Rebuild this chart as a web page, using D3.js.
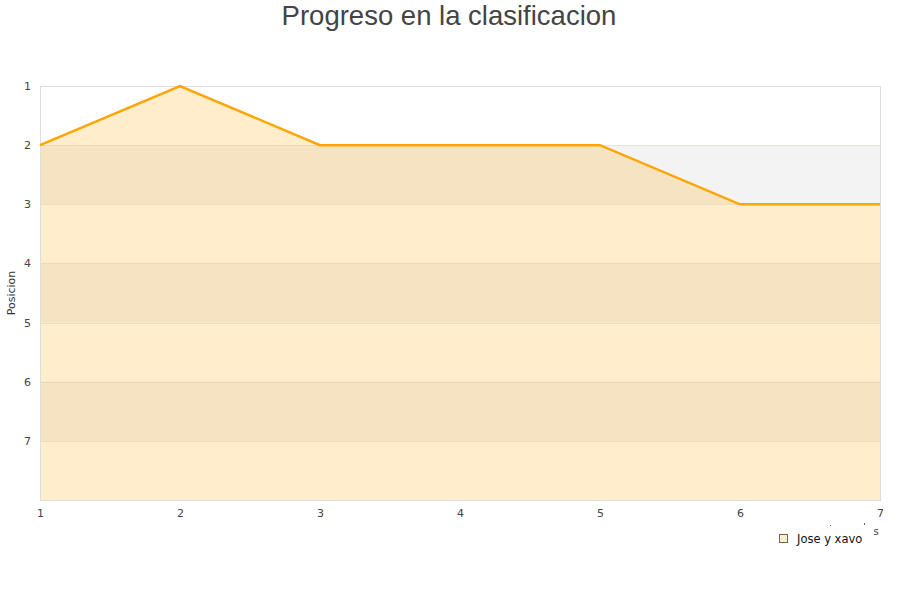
<!DOCTYPE html>
<html><head><meta charset="utf-8">
<script src="https://cdn.jsdelivr.net/npm/d3@7"></script>
<style>body{margin:0;background:#fff;} svg{display:block;}</style>
</head><body>
<svg id="c" width="900" height="600"></svg>
<script>
const jornadas = [1, 2, 3, 4, 5, 6, 7];
const posiciones = [2, 1, 2, 2, 2, 3, 3];
const yTicks = [1, 2, 3, 4, 5, 6, 7];
const seriesName = "Jose y xavo";
const titleText = "Progreso en la clasificacion";
const yTitle = "Posicion";

const svg = d3.select("#c");
const L = 40, R = 880, T = 86, B = 500;
const x = d3.scaleLinear().domain([1, 7]).range([L, R]);
const y = d3.scaleLinear().domain([1, 8]).range([T, B]);

// bands
const bands = d3.range(1, 8);
svg.append("g").selectAll("rect").data(bands).join("rect")
  .attr("x", L).attr("width", R - L)
  .attr("y", d => y(d)).attr("height", d => y(d + 1) - y(d))
  .attr("fill", (d, i) => i % 2 === 1 ? "#f3f3f3" : "#ffffff");

// area
const area = d3.area().x((d, i) => x(jornadas[i])).y0(y(8)).y1(d => y(d));
svg.append("path").datum(posiciones).attr("d", area)
  .attr("fill", "rgba(255,165,0,0.2)");

// gridlines
svg.append("g").selectAll("line").data(yTicks.slice(1)).join("line")
  .attr("x1", L).attr("x2", R).attr("y1", d => Math.round(y(d)) + 0.5).attr("y2", d => Math.round(y(d)) + 0.5)
  .attr("stroke", "rgba(190,170,140,0.25)");

// border
svg.append("rect").attr("x", L + 0.5).attr("y", T + 0.5).attr("width", R - L).attr("height", B - T)
  .attr("fill", "none").attr("stroke", "#dddddd");

// line
const line = d3.line().x((d, i) => x(jornadas[i])).y(d => y(d));
svg.append("path").datum(posiciones).attr("d", line)
  .attr("fill", "none").attr("stroke", "#ffa500").attr("stroke-width", 2.5);

// y axis labels
const yAxis = d3.axisLeft(y).tickValues(yTicks).tickSize(0).tickPadding(0).tickFormat(d3.format("d"));
const gy = svg.append("g").attr("transform", `translate(${L - 9},0)`).call(yAxis);
gy.select(".domain").remove();
gy.selectAll("text").attr("font-family", "DejaVu Sans, sans-serif").attr("font-size", 11).attr("fill", "#444");

// x axis labels
const xAxis = d3.axisBottom(x).tickValues(jornadas).tickSize(0).tickPadding(0).tickFormat(d3.format("d"));
const gx = svg.append("g").attr("transform", `translate(0,${B + 9})`).call(xAxis);
gx.select(".domain").remove();
gx.selectAll("text").attr("font-family", "DejaVu Sans, sans-serif").attr("font-size", 11).attr("fill", "#444");

// y title
svg.append("text").attr("transform", "translate(15,293) rotate(-90)")
  .attr("text-anchor", "middle").attr("font-family", "DejaVu Sans, sans-serif")
  .attr("font-size", 11).attr("fill", "#333").text(yTitle);

// title
svg.append("text").attr("x", 449).attr("y", 25).attr("text-anchor", "middle")
  .attr("font-family", "Liberation Sans, Arial, sans-serif").attr("font-size", 27.5)
  .attr("fill", "#444").text(titleText);

// stray x-title fragment
svg.append("text").attr("x", 876).attr("y", 535).attr("text-anchor", "middle")
  .attr("font-family", "DejaVu Sans, sans-serif").attr("font-size", 10).attr("fill", "#444").text("s");
svg.append("rect").attr("x", 830).attr("y", 525).attr("width", 1).attr("height", 1).attr("fill", "#666");
svg.append("rect").attr("x", 864).attr("y", 523).attr("width", 1).attr("height", 2).attr("fill", "#666");

// legend
const lg = svg.append("g").attr("transform", "translate(779,534)");
lg.append("rect").attr("x", 0.5).attr("y", 0.5).attr("width", 8).attr("height", 8)
  .attr("fill", "#ffedcc").attr("stroke", "#666").attr("stroke-width", 1);
lg.append("text").attr("x", 18).attr("y", 8.5).attr("font-family", "DejaVu Sans, sans-serif")
  .attr("font-size", 11.5).attr("fill", "#111").text(seriesName);
</script>
</body></html>
